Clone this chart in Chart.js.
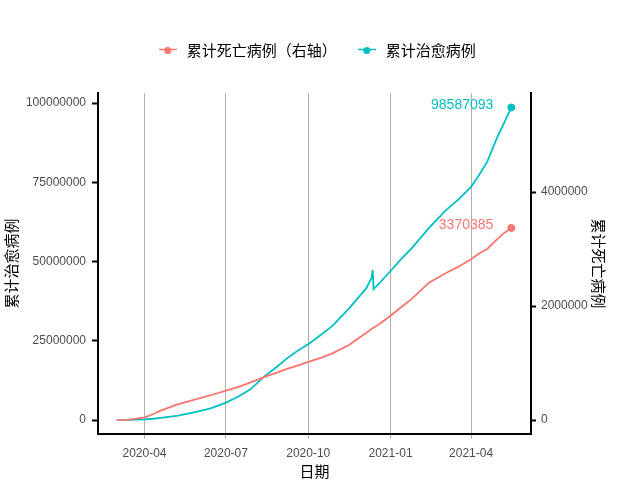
<!DOCTYPE html>
<html><head><meta charset="utf-8">
<script src="https://cdn.jsdelivr.net/npm/chart.js@4.4.1/dist/chart.umd.min.js"></script>
<style>html,body{margin:0;padding:0;background:#fff}#wrap{width:640px;height:480px}</style>
</head><body><div id="wrap"><canvas id="c" width="640" height="480"></canvas></div>
<script>
const dates = ['2020-03-01','2020-03-15','2020-04-01','2020-04-11','2020-04-19','2020-05-07','2020-05-25','2020-06-13','2020-07-01','2020-07-15','2020-07-28','2020-08-14','2020-08-27','2020-09-08','2020-09-20','2020-10-01','2020-10-15','2020-10-28','2020-11-16','2020-12-05','2020-12-11','2020-12-12','2020-12-13','2020-12-20','2021-01-01','2021-01-12','2021-01-25','2021-02-13','2021-03-04','2021-03-18','2021-04-01','2021-04-10','2021-04-19','2021-04-30','2021-05-07','2021-05-16'];
const cured = [40000,70000,190000,400000,640000,1300000,2300000,3600000,5500000,7400000,9600000,14000000,16800000,19600000,22000000,23900000,26800000,29700000,35300000,41600000,45000000,47300000,41300000,43300000,47000000,50500000,54300000,60600000,66200000,69600000,73500000,77300000,81400000,89000000,93200000,98587093];
const deaths = [3000,6000,47000,105000,165000,270000,350000,430000,515000,580000,655000,760000,830000,900000,960000,1020000,1090000,1170000,1320000,1530000,1600000,1610000,1620000,1690000,1830000,1970000,2130000,2410000,2580000,2690000,2820000,2920000,3000000,3170000,3270000,3370385];
const tickDates = ['2020-04-01','2020-07-01','2020-10-01','2021-01-01','2021-04-01'];
const tickLabels = ['2020-04','2020-07','2020-10','2021-01','2021-04'];
const leftTicks = [0,25000000,50000000,75000000,100000000];
const rightTicks = [0,2000000,4000000];
const seriesNames = ['累计死亡病例（右轴）','累计治愈病例'];
const seriesColors = ['#F8766D','#00BFC4'];

const day0 = Date.UTC(2020,2,1);
const toDay = s => (Date.parse(s + 'T00:00:00Z') - day0) / 864e5;
const LAT = "'Liberation Sans', Arial, sans-serif";
const CJK = "'Noto Sans CJK SC', sans-serif";

function marker(color){
  const c = document.createElement('canvas'); c.width = 18; c.height = 12;
  const g = c.getContext('2d');
  g.strokeStyle = color; g.lineWidth = 1.5;
  g.beginPath(); g.moveTo(0,5.5); g.lineTo(18,5.5); g.stroke();
  g.fillStyle = color; g.beginPath(); g.arc(9,6.5,3.5,0,Math.PI*2); g.fill();
  return c;
}
const markers = seriesColors.map(marker);
const seriesValues = [deaths, cured];

const lastRadius = n => c => (c.dataIndex === n - 1 ? 3.5 : 0);

const legendGap = {
  id: 'legendGap',
  beforeInit(chart){
    if (!chart.legend) return;
    const orig = chart.legend.fit;
    chart.legend.fit = function(){ orig.call(this); this.height += 25.5; };
  }
};
const endLabels = {
  id: 'endLabels',
  afterDatasetsDraw(chart){
    const ctx = chart.ctx;
    ctx.save();
    ctx.font = '14px ' + LAT;
    ctx.textAlign = 'right';
    ctx.textBaseline = 'middle';
    chart.data.datasets.forEach((ds, i) => {
      const meta = chart.getDatasetMeta(i);
      const pt = meta.data[meta.data.length - 1];
      const vals = seriesValues[i];
      ctx.fillStyle = seriesColors[i];
      ctx.fillText(String(vals[vals.length - 1]), pt.x - 18, pt.y - 2.5);
    });
    ctx.restore();
  }
};

new Chart(document.getElementById('c'), {
  type: 'line',
  data: {
    datasets: [
      { label: seriesNames[0], data: dates.map((d,i)=>({x: toDay(d), y: deaths[i]})), yAxisID: 'y2',
        borderColor: seriesColors[0], backgroundColor: seriesColors[0], borderWidth: 1.8,
        pointRadius: lastRadius(deaths.length), pointBorderWidth: 1, tension: 0, fill: false },
      { label: seriesNames[1], data: dates.map((d,i)=>({x: toDay(d), y: cured[i]})), yAxisID: 'y',
        borderColor: seriesColors[1], backgroundColor: seriesColors[1], borderWidth: 1.8,
        pointRadius: lastRadius(cured.length), pointBorderWidth: 1, tension: 0, fill: false }
    ]
  },
  options: {
    responsive: false, animation: false, events: [],
    layout: { padding: { top: 24, left: 0, right: 8, bottom: 0 } },
    plugins: {
      tooltip: { enabled: false },
      legend: {
        position: 'top',
        labels: {
          usePointStyle: true, pointStyleWidth: 23, padding: 18.5,
          font: { family: CJK, size: 15 }, color: '#000',
          generateLabels: chart => chart.data.datasets.map((ds, i) => ({
            text: ds.label, fillStyle: seriesColors[i], strokeStyle: seriesColors[i],
            lineWidth: 0, pointStyle: markers[i], datasetIndex: i, hidden: false, fontColor: '#000'
          }))
        }
      }
    },
    scales: {
      x: {
        type: 'linear', min: -21, max: 463,
        afterBuildTicks: s => { s.ticks = tickDates.map(d => ({ value: toDay(d) })); },
        afterFit: s => { s.height = 46; },
        ticks: { callback: (v, i) => tickLabels[i], color: '#4d4d4d', font: { family: LAT, size: 12 },
                 padding: 7, maxRotation: 0, autoSkip: false },
        grid: { color: '#b3b0a8', lineWidth: 1, tickLength: 5, tickColor: '#b3b0a8', drawOnChartArea: true },
        border: { display: true, color: '#000', width: 2 },
        title: { display: true, text: '日期', color: '#000', font: { family: CJK, size: 15 }, padding: { top: 0, bottom: 0 } }
      },
      y: {
        type: 'linear', position: 'left', min: -4416000, max: 103155000,
        afterBuildTicks: s => { s.ticks = leftTicks.map(v => ({ value: v })); },
        afterFit: s => { s.width = 98; },
        ticks: { callback: v => String(v), color: '#4d4d4d', font: { family: LAT, size: 12 }, padding: 6 },
        grid: { drawOnChartArea: false, drawTicks: true, tickLength: 6, tickColor: '#000', tickWidth: 2 },
        border: { display: true, color: '#000', width: 2 },
        title: { display: true, text: '累计治愈病例', color: '#000', font: { family: CJK, size: 15 }, padding: { top: 2, bottom: 0 } }
      },
      y2: {
        type: 'linear', position: 'right', min: -245600, max: 5737000,
        afterBuildTicks: s => { s.ticks = rightTicks.map(v => ({ value: v })); },
        afterFit: s => { s.width = 101; },
        ticks: { callback: v => String(v), color: '#4d4d4d', font: { family: LAT, size: 12 }, padding: 5 },
        grid: { drawOnChartArea: false, drawTicks: true, tickLength: 5, tickColor: '#000', tickWidth: 2 },
        border: { display: true, color: '#000', width: 2 },
        title: { display: true, text: '累计死亡病例', color: '#000', font: { family: CJK, size: 15 }, padding: { top: 24, bottom: 0 } }
      }
    }
  },
  plugins: [legendGap, endLabels]
});
</script>
</body></html>
